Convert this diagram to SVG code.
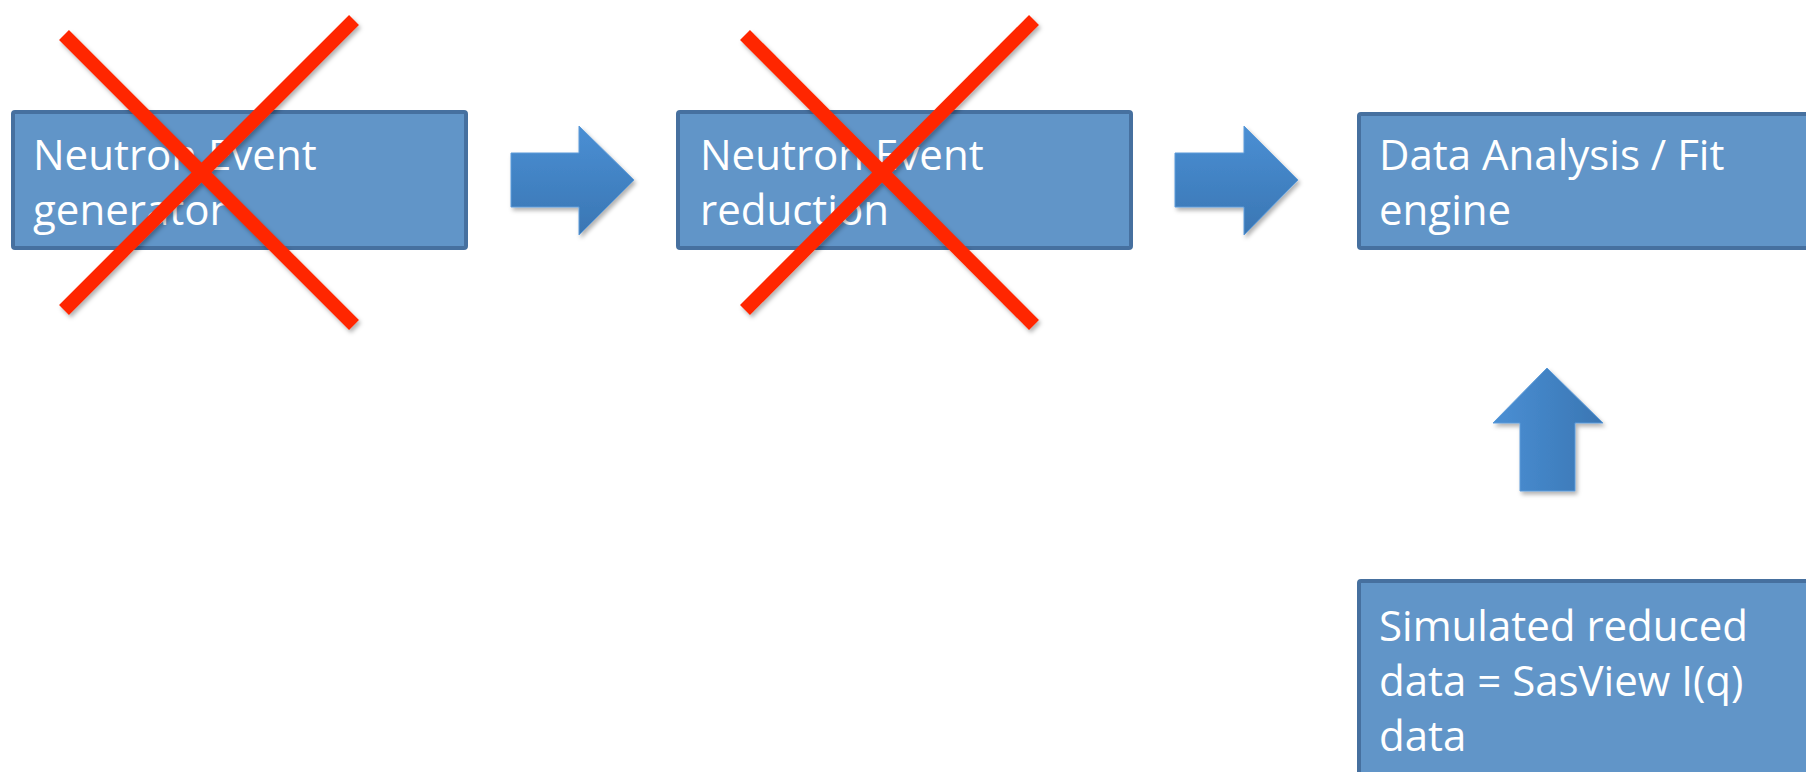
<svg xmlns="http://www.w3.org/2000/svg" width="1806" height="772" viewBox="0 0 1806 772">
  <style>
    .box { fill: #6195c8; stroke: #46709f; stroke-width: 4; }
    .lbl { font-family: "Open Sans", "Liberation Sans", sans-serif; font-size: 42px; fill: #ffffff; }
    .cross { stroke: #ff2600; stroke-width: 14; stroke-linecap: butt; fill: none; }
    .arrowH { fill: url(#gradV); stroke: #5c9bd9; stroke-width: 1; }
    .arrowU { fill: url(#gradH); stroke: #5c9bd9; stroke-width: 1; }
  </style>
  <defs>
    <linearGradient id="gradV" x1="0" y1="0" x2="0" y2="1">
      <stop offset="0" stop-color="#4a8fd4"/>
      <stop offset="1" stop-color="#3a76b3"/>
    </linearGradient>
    <linearGradient id="gradH" x1="0" y1="0" x2="1" y2="0">
      <stop offset="0" stop-color="#4a8fd4"/>
      <stop offset="1" stop-color="#3a76b3"/>
    </linearGradient>
    <filter id="shadow" x="-20%" y="-20%" width="140%" height="140%">
      <feDropShadow dx="2" dy="3" stdDeviation="2" flood-color="#000000" flood-opacity="0.3"/>
    </filter>
  </defs>
  <rect width="1806" height="772" fill="#ffffff"/>

  <g id="node-generator">
    <rect class="box" x="13" y="112" width="453" height="136" rx="2"/>
    <text class="lbl" x="33" y="170">Neutron Event</text>
    <text class="lbl" x="33" y="225">generator</text>
  </g>
  <g id="node-reduction">
    <rect class="box" x="678" y="112" width="453" height="136" rx="2"/>
    <text class="lbl" x="700" y="170">Neutron Event</text>
    <text class="lbl" x="700" y="225">reduction</text>
  </g>
  <g id="node-analysis">
    <rect class="box" x="1359" y="114" width="460" height="134" rx="2"/>
    <text class="lbl" x="1379" y="170">Data Analysis / Fit</text>
    <text class="lbl" x="1379" y="225">engine</text>
  </g>
  <g id="node-simulated">
    <rect class="box" x="1359" y="581" width="460" height="210" rx="2"/>
    <text class="lbl" x="1379" y="641">Simulated reduced</text>
    <text class="lbl" x="1379" y="696">data = SasView I(q)</text>
    <text class="lbl" x="1379" y="751">data</text>
  </g>

  <g id="crosses" filter="url(#shadow)">
    <line class="cross" x1="64" y1="35" x2="354" y2="325"/>
    <line class="cross" x1="64" y1="310" x2="354" y2="20"/>
    <line class="cross" x1="745" y1="35" x2="1034" y2="325"/>
    <line class="cross" x1="745" y1="310" x2="1034" y2="20"/>
  </g>

  <g id="connectors" filter="url(#shadow)">
    <polygon class="arrowH" points="511,153 579,153 579,126 634,180 579,235 579,207 511,207"/>
    <polygon class="arrowH" points="1175,153 1244,153 1244,126 1298,180 1244,235 1244,207 1175,207"/>
    <polygon class="arrowU" points="1547,368 1603,423 1575,423 1575,491 1520,491 1520,423 1493,423"/>
  </g>
</svg>
